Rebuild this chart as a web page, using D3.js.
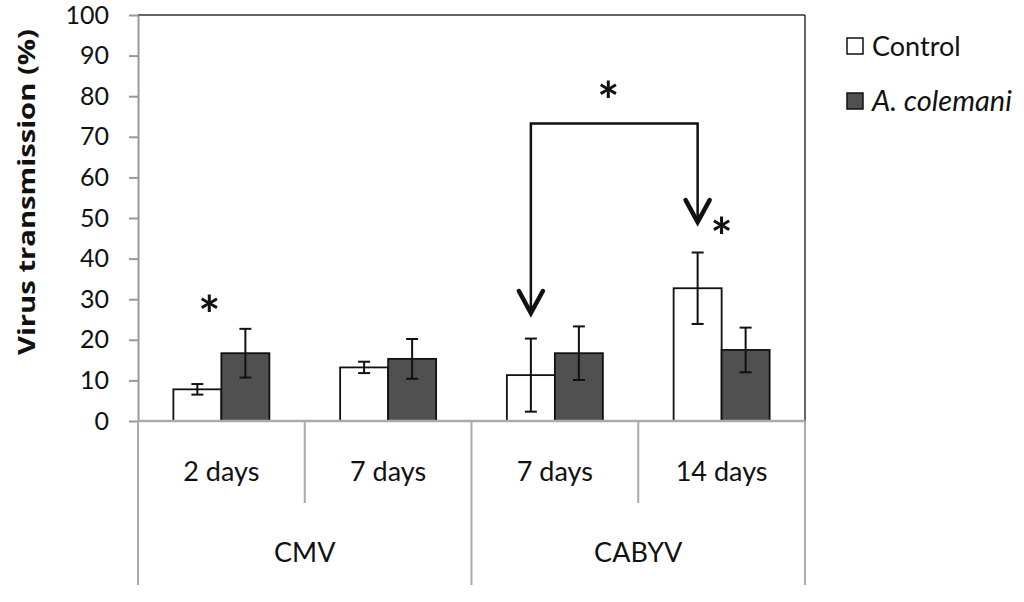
<!DOCTYPE html>
<html>
<head>
<meta charset="utf-8">
<script src="https://cdn.jsdelivr.net/npm/d3@7"></script>
<style>
  body { margin: 0; background: #fff; }
  svg { font-family: Lato, "Open Sans", sans-serif; }
</style>
</head>
<body>
<svg id="chart" width="1024" height="602"></svg>
<script>
// ---------- data ----------
var subLabels = ['2 days', '7 days', '7 days', '14 days'];
var virusGroups = [
  { name: 'CMV', from: 0, to: 1 },
  { name: 'CABYV', from: 2, to: 3 }
];
var seriesNames = ['Control', 'A. colemani'];
var controlMean = [7.8, 13.2, 11.3, 32.7];
var controlErr = [1.3, 1.4, 9.0, 8.8];
var colemaniMean = [16.7, 15.3, 16.7, 17.5];
var colemaniErr = [6.0, 4.9, 6.6, 5.5];
var yTicks = [0, 10, 20, 30, 40, 50, 60, 70, 80, 90, 100];

// significance marks (value units)
var bracket = { from: 2, to: 3, level: 73.3, tipFrom: 26.6, tipTo: 49 };
var stars = [
  { cat: 0, dx: -12, value: 28.3 },
  { cat: 2.5, dx: -30, value: 81.0 },
  { cat: 3, dx: 0, value: 47.6 }
];

// ---------- layout ----------
var plotL = 138, plotR = 805, plotT = 15, plotB = 421;
var svg = d3.select('#chart');

var y = d3.scaleLinear().domain([0, 100]).range([plotB, plotT]);
var x0 = d3.scaleBand().domain(d3.range(subLabels.length)).range([plotL, plotR]);
var x1 = d3.scaleBand().domain(seriesNames).range([0, x0.bandwidth()])
           .paddingInner(0).paddingOuter(0.737);

var fills = { 'Control': '#ffffff', 'A. colemani': '#505050' };

// catCenter works for fractional positions too (for the bracket star)
function catCenter(i) { return plotL + (i + 0.5) * x0.step(); }

//-------------- frame ---------------
svg.append('line')
    .attr('x1', plotL).attr('x2', plotR).attr('y1', plotT).attr('y2', plotT)
    .attr('stroke', '#333').attr('stroke-width', 1.5);
svg.append('line')
    .attr('x1', plotR).attr('x2', plotR).attr('y1', plotT).attr('y2', plotB)
    .attr('stroke', '#333').attr('stroke-width', 1.5);

//-------------- y axis ---------------
var yAxis = d3.axisLeft(y).tickValues(yTicks).tickSize(9).tickSizeOuter(0).tickPadding(20);
var gy = svg.append('g')
    .attr('transform', 'translate(' + plotL + ',0)')
    .call(yAxis);
gy.select('.domain').attr('stroke', '#999').attr('stroke-width', 2);
gy.selectAll('.tick line').attr('stroke', '#999').attr('stroke-width', 2);
gy.selectAll('.tick text')
    .attr('fill', '#111')
    .style('font-size', '25px')
    .style('font-family', 'Lato, sans-serif');

svg.append('text')
    .attr('transform', 'translate(35,192) rotate(-90)')
    .attr('text-anchor', 'middle')
    .attr('textLength', 326)
    .attr('lengthAdjust', 'spacingAndGlyphs')
    .style('font-family', '"Open Sans", sans-serif')
    .style('font-size', '24px')
    .style('font-weight', 'bold')
    .attr('fill', '#111')
    .text('Virus transmission (%)');

//-------------- bars ---------------
var rows = [];
subLabels.forEach(function(lab, i) {
  rows.push({ cat: i, series: 'Control', v: controlMean[i], e: controlErr[i] });
  rows.push({ cat: i, series: 'A. colemani', v: colemaniMean[i], e: colemaniErr[i] });
});

svg.append('g').selectAll('rect')
  .data(rows)
  .enter().append('rect')
    .attr('x', d => x0(d.cat) + x1(d.series))
    .attr('y', d => y(d.v))
    .attr('width', x1.bandwidth())
    .attr('height', d => y(0) - y(d.v))
    .attr('fill', d => fills[d.series])
    .attr('stroke', '#111')
    .attr('stroke-width', 1.8);

//-------------- error bars ---------------
var capW = 12;
var eb = svg.append('g').attr('stroke', '#111').attr('stroke-width', 2);
rows.forEach(function(d) {
  var cx = x0(d.cat) + x1(d.series) + x1.bandwidth() / 2;
  eb.append('line').attr('x1', cx).attr('x2', cx)
    .attr('y1', y(d.v + d.e)).attr('y2', y(d.v - d.e));
  [d.v + d.e, d.v - d.e].forEach(function(val) {
    eb.append('line').attr('x1', cx - capW / 2).attr('x2', cx + capW / 2)
      .attr('y1', y(val)).attr('y2', y(val));
  });
});

//-------------- x axis + category boxes ---------------
var grey = '#aaa';
svg.append('line')
    .attr('x1', plotL).attr('x2', plotR).attr('y1', plotB).attr('y2', plotB)
    .attr('stroke', grey).attr('stroke-width', 2.5);

// inner separators
d3.range(1, subLabels.length).forEach(function(i) {
  var isGroupEdge = virusGroups.some(g => g.from === i);
  if (isGroupEdge) return;
  svg.append('line')
    .attr('x1', x0(i)).attr('x2', x0(i)).attr('y1', plotB).attr('y2', 503)
    .attr('stroke', grey).attr('stroke-width', 2);
});
// group edges
var edges = [plotL].concat(virusGroups.map(g => x0(g.to) + x0.bandwidth()));
edges.forEach(function(xe) {
  svg.append('line')
    .attr('x1', xe).attr('x2', xe).attr('y1', plotB).attr('y2', 585)
    .attr('stroke', grey).attr('stroke-width', 2);
});

svg.append('g').selectAll('text')
  .data(subLabels)
  .enter().append('text')
    .attr('x', (d, i) => catCenter(i))
    .attr('y', 481)
    .attr('text-anchor', 'middle')
    .style('font-size', '27px')
    .attr('fill', '#111')
    .text(d => d);

svg.append('g').selectAll('text')
  .data(virusGroups)
  .enter().append('text')
    .attr('x', d => (catCenter(d.from) + catCenter(d.to)) / 2)
    .attr('y', 562)
    .attr('text-anchor', 'middle')
    .style('font-size', '27px')
    .attr('fill', '#111')
    .text(d => d.name);

//-------------- bracket with arrows ---------------
var bx1 = x0(bracket.from) + x1('Control') + x1.bandwidth() / 2;
var bx2 = x0(bracket.to) + x1('Control') + x1.bandwidth() / 2;
svg.append('path')
    .attr('d', 'M' + bx1 + ',' + y(bracket.tipFrom) + 'V' + y(bracket.level) +
               'H' + bx2 + 'V' + y(bracket.tipTo))
    .attr('fill', 'none').attr('stroke', '#111').attr('stroke-width', 2.5);
[[bx1, bracket.tipFrom], [bx2, bracket.tipTo]].forEach(function(p) {
  var tx = p[0], ty = y(p[1]);
  svg.append('path')
    .attr('d', 'M' + (tx - 12) + ',' + (ty - 22) + 'L' + tx + ',' + ty + 'L' + (tx + 12) + ',' + (ty - 22))
    .attr('fill', 'none').attr('stroke', '#111').attr('stroke-width', 4.5)
    .attr('stroke-linejoin', 'miter').attr('stroke-linecap', 'round');
});

//-------------- stars ---------------
svg.append('g').selectAll('text')
  .data(stars)
  .enter().append('text')
    .attr('x', d => catCenter(d.cat) + d.dx)
    .attr('y', d => y(d.value) + 28)
    .attr('text-anchor', 'middle')
    .style('font-size', '52px')
    .style('font-weight', 'bold')
    .attr('fill', '#111')
    .text('*');

//-------------- legend ---------------
var legend = svg.append('g').attr('transform', 'translate(847,38)');
seriesNames.forEach(function(name, i) {
  var g = legend.append('g').attr('transform', 'translate(0,' + (i * 55) + ')');
  g.append('rect')
    .attr('width', 16).attr('height', 16)
    .attr('fill', fills[name]).attr('stroke', '#111').attr('stroke-width', 1.5);
  g.append('text')
    .attr('x', 25).attr('y', 18)
    .style('font-size', i === 1 ? '29px' : '27px')
    .style('font-style', i === 1 ? 'italic' : 'normal')
    .attr('fill', '#111')
    .text(name);
});
</script>
</body>
</html>
